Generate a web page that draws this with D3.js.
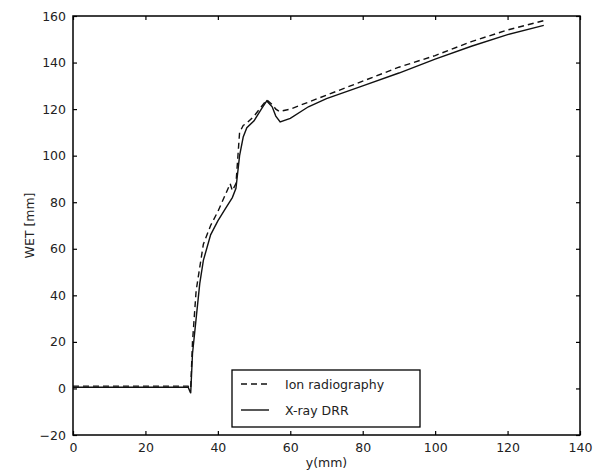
<!DOCTYPE html>
<html>
<head>
<meta charset="utf-8">
<script src="https://cdn.jsdelivr.net/npm/d3@7"></script>
<style>
  body { margin: 0; background: #fff; }
  svg text { font-family: "DejaVu Sans", sans-serif; fill: #222; }
</style>
</head>
<body>
<svg id="chart"></svg>
<script>
// positions along y (mm)
const xrayX = [0, 31.8, 32.5, 33, 34, 35, 36, 38, 40, 42, 44, 45, 46, 47, 48, 50, 52, 53.5, 55, 56, 57.2, 60, 65, 70, 80, 90, 100, 110, 120, 130];
const xrayWET = [0.5, 0.5, -2, 15, 30, 45, 55, 66, 72, 77, 82, 86, 100, 108, 112, 115, 120, 123.5, 121, 117, 114.5, 116, 121, 124.5, 130, 135.5, 141.5, 147, 152, 156];

const ionX = [0, 31.8, 32.5, 33, 34, 35, 36, 38, 40, 42, 43.4, 44, 45, 46, 47, 48, 50, 52, 53.5, 55, 56, 57, 60, 65, 70, 80, 90, 100, 110, 120, 130];
const ionWET = [1, 1, 0, 20, 42, 52, 62, 70, 76, 83, 88, 85, 88, 110, 113, 114, 117, 121, 124, 122, 120, 119, 120, 123, 126, 132, 138, 143, 149, 154, 158];

const xTicks = [0, 20, 40, 60, 80, 100, 120, 140];
const yTicks = [-20, 0, 20, 40, 60, 80, 100, 120, 140, 160];

const W = 597, H = 476;
const margin = { top: 16, right: 17, bottom: 41, left: 73 };
const width = W - margin.left - margin.right;
const height = H - margin.top - margin.bottom;

const svg = d3.select("#chart").attr("width", W).attr("height", H);
const g = svg.append("g").attr("transform", `translate(${margin.left},${margin.top})`);

const x = d3.scaleLinear().domain([0, 140]).range([0, width]);
const y = d3.scaleLinear().domain([-20, 160]).range([height, 0]);

// ticks pointing inward, on all four sides
const tl = 4;
g.append("g").attr("transform", `translate(0,${height})`)
  .call(d3.axisBottom(x).tickValues(xTicks).tickSizeInner(-tl).tickSizeOuter(0).tickPadding(8))
  .call(a => a.select(".domain").remove());
g.append("g")
  .call(d3.axisTop(x).tickValues(xTicks).tickSizeInner(-tl).tickSizeOuter(0).tickFormat(""))
  .call(a => a.select(".domain").remove());
g.append("g")
  .call(d3.axisLeft(y).tickValues(yTicks).tickSizeInner(-tl).tickSizeOuter(0).tickPadding(7).tickFormat(d => d < 0 ? "\u2212" + Math.abs(d) : d))
  .call(a => a.select(".domain").remove());
g.append("g").attr("transform", `translate(${width},0)`)
  .call(d3.axisRight(y).tickValues(yTicks).tickSizeInner(-tl).tickSizeOuter(0).tickFormat(""))
  .call(a => a.select(".domain").remove());

g.selectAll(".tick line").attr("stroke", "#000").attr("stroke-width", 1.2);
g.selectAll(".tick text").attr("font-size", 12.5).attr("fill", "#333");

const line = d3.line().x(d => x(d[0])).y(d => y(d[1]));

g.append("path")
  .datum(ionX.map((v, i) => [v, ionWET[i]]))
  .attr("d", line).attr("fill", "none")
  .attr("stroke", "#111").attr("stroke-width", 1.4)
  .attr("stroke-dasharray", "6,4");

g.append("path")
  .datum(xrayX.map((v, i) => [v, xrayWET[i]]))
  .attr("d", line).attr("fill", "none")
  .attr("stroke", "#111").attr("stroke-width", 1.4);

// frame
g.append("rect").attr("width", width).attr("height", height)
  .attr("fill", "none").attr("stroke", "#000").attr("stroke-width", 1.5);

// axis labels
svg.append("text").attr("x", margin.left + x(70)).attr("y", 467)
  .attr("text-anchor", "middle").attr("font-size", 12.5).attr("fill", "#333").text("y(mm)");
svg.append("text").attr("transform", `translate(34,${margin.top + y(70)}) rotate(-90)`)
  .attr("text-anchor", "middle").attr("font-size", 12.5).attr("fill", "#333").text("WET [mm]");

// legend
const leg = svg.append("g").attr("transform", "translate(232,370)");
leg.append("rect").attr("width", 188).attr("height", 57)
  .attr("fill", "#fff").attr("stroke", "#000").attr("stroke-width", 1.3);
const items = [["Ion radiography", "6,4"], ["X-ray DRR", null]];
items.forEach((it, i) => {
  const yy = 14 + i * 26;
  leg.append("line").attr("x1", 9).attr("x2", 37).attr("y1", yy).attr("y2", yy)
    .attr("stroke", "#111").attr("stroke-width", 1.4)
    .attr("stroke-dasharray", it[1]);
  leg.append("text").attr("x", 53).attr("y", yy + 4.5)
    .attr("font-size", 12.5).attr("fill", "#333").text(it[0]);
});
</script>
</body>
</html>
